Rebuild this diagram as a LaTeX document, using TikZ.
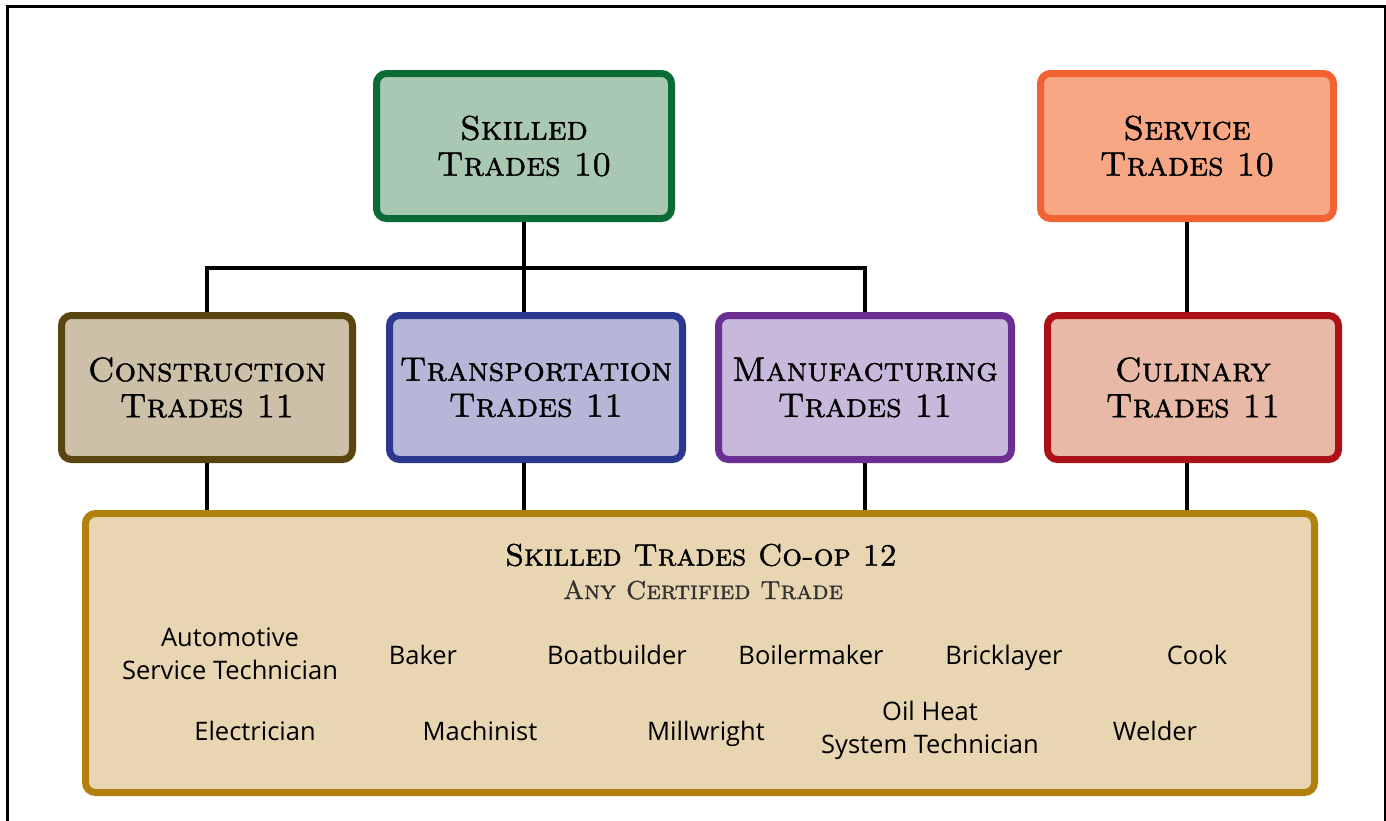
\documentclass[tikz,border=0pt]{standalone}
\usepackage{fontspec}
\setsansfont{Open Sans}
\newfontfamily\capsfont{lmroman10-regular.otf}[SmallCapsFont={lmromancaps10-regular.otf}, SmallCapsFeatures={FakeBold=1.2}]
\definecolor{gborder}{HTML}{0B6B35}
\definecolor{gfill}{HTML}{A9C8B2}
\definecolor{oborder}{HTML}{F26334}
\definecolor{ofill}{HTML}{F7A783}
\definecolor{cborder}{HTML}{5A4410}
\definecolor{cfill}{HTML}{CDC0A9}
\definecolor{tborder}{HTML}{2C388F}
\definecolor{tfill}{HTML}{B6B6D9}
\definecolor{mborder}{HTML}{6A2F90}
\definecolor{mfill}{HTML}{C8B9DC}
\definecolor{kborder}{HTML}{AC1117}
\definecolor{kfill}{HTML}{E8B9A6}
\definecolor{pborder}{HTML}{B2800C}
\definecolor{pfill}{HTML}{E8D6B2}
\begin{document}
\begin{tikzpicture}[x=1pt,y=-1pt,
  box/.style={draw, rounded corners=10pt, line width=7pt, align=center,
    font=\capsfont\fontsize{34}{36}\selectfont\scshape, inner sep=0pt},
  item/.style={align=center, font=\sffamily\fontsize{25.5}{33}\selectfont, inner sep=0pt},
  iteml/.style={item, anchor=base},
  conn/.style={line width=4pt, black},
  frame/.style={line width=3pt, black}]
\useasboundingbox (0,0) rectangle (1386,820);
\clip (0,0) rectangle (1386,820);
\draw[frame] (7,6) rectangle (1385,850);

\node[box, draw=gborder, fill=gfill, minimum width=295pt, minimum height=145pt] (skilled) at (524,146) {Skilled\\Trades 10};
\node[box, draw=oborder, fill=ofill, minimum width=293pt, minimum height=145pt] (service) at (1187,146) {Service\\Trades 10};
\node[box, draw=cborder, fill=cfill, minimum width=291pt, minimum height=144pt] (constr) at (207,387.5) {Construction\\Trades 11};
\node[box, draw=tborder, fill=tfill, minimum width=293pt, minimum height=144pt] (trans) at (536,387.5) {Transportation\\Trades 11};
\node[box, draw=mborder, fill=mfill, minimum width=293pt, minimum height=144pt] (manuf) at (865,387.5) {Manufacturing\\Trades 11};
\node[box, draw=kborder, fill=kfill, minimum width=291pt, minimum height=144pt] (culin) at (1193,387.5) {Culinary\\Trades 11};
\node[box, draw=pborder, fill=pfill, minimum width=1229pt, minimum height=279pt] (coop) at (700,653) {};

\draw[conn] (skilled.south) -- ++(0,46) coordinate (busc);
\draw[conn] (constr.north) |- (manuf.north |- busc) -- (manuf.north);
\draw[conn] (busc) -- (skilled.south |- trans.north);
\draw[conn] (service.south) -- (service.south |- culin.north);
\draw[conn] (constr.south) -- (constr.south |- coop.north);
\draw[conn] (skilled.south |- trans.south) -- (skilled.south |- coop.north);
\draw[conn] (manuf.south) -- (manuf.south |- coop.north);
\draw[conn] (service.south |- culin.south) -- (service.south |- coop.north);

\node[font=\capsfont\fontsize{31}{36}\selectfont\scshape, inner sep=0pt] (cooptitle) at (701,555) {Skilled Trades Co-op 12};
\node[font=\capsfont\fontsize{26}{30}\selectfont\scshape, inner sep=0pt, text=black!80] (coopsub) at (703,590) {Any Certified Trade};

\node[item] (auto) at (230,654) {Automotive\\Service Technician};
\node[iteml] (baker) at (423,664) {Baker};
\node[iteml] (boat) at (617,664) {Boatbuilder};
\node[iteml] (boil) at (811,664) {Boilermaker};
\node[iteml] (brick) at (1004,664) {Bricklayer};
\node[iteml] (cook) at (1197,664) {Cook};
\node[iteml] (elec) at (255,740) {Electrician};
\node[iteml] (mach) at (480,740) {Machinist};
\node[iteml] (mill) at (706,740) {Millwright};
\node[item] (oil) at (930,730) {Oil Heat\\System Technician};
\node[iteml] (weld) at (1155,740) {Welder};
\end{tikzpicture}
\end{document}
